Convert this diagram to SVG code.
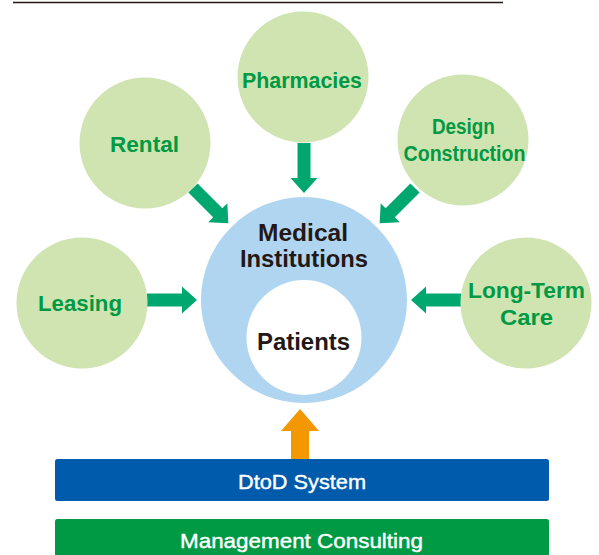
<svg xmlns="http://www.w3.org/2000/svg" width="599" height="555" viewBox="0 0 599 555">
<style>
.sat{fill:#cfe4b1}
.gt{font-family:"Liberation Sans",Arial,sans-serif;font-weight:bold;font-size:22px;fill:#009944;text-anchor:middle}
.bt{font-family:"Liberation Sans",Arial,sans-serif;font-weight:bold;font-size:23.5px;fill:#231815;text-anchor:middle}
.wt{font-family:"Liberation Sans",Arial,sans-serif;font-size:21px;fill:#ffffff;stroke:#ffffff;stroke-width:0.4;text-anchor:middle}
.ga{fill:#00a870}
</style>
<defs>
<polygon id="arr" points="-6.5,0 6.5,0 6.5,35 13.5,35 0,50 -13.5,35 -6.5,35"/>
</defs>
<line x1="13" y1="2.5" x2="503" y2="2.5" stroke="#231815" stroke-width="1.3"/>
<g id="connectors">
<use href="#arr" class="ga" transform="translate(304,143)"/>
<use href="#arr" class="ga" transform="translate(193,188) rotate(-45)"/>
<use href="#arr" class="ga" transform="translate(415,188) rotate(45)"/>
<use href="#arr" class="ga" transform="translate(147,300) rotate(-90)"/>
<use href="#arr" class="ga" transform="translate(461,300) rotate(90)"/>
<polygon fill="#f39800" points="291,459 309,459 309,431 319,431 300,409 281,431 291,431"/>
</g>
<g id="pharmacies"><circle class="sat" cx="303" cy="77" r="65.5"/><text class="gt" x="302" y="88" textLength="120" lengthAdjust="spacingAndGlyphs">Pharmacies</text></g>
<g id="rental"><circle class="sat" cx="145" cy="143" r="65.5"/><text class="gt" x="144.5" y="152" textLength="69" lengthAdjust="spacingAndGlyphs">Rental</text></g>
<g id="design"><circle class="sat" cx="463" cy="140" r="65.5"/><text class="gt" x="463.4" y="134" textLength="63" lengthAdjust="spacingAndGlyphs">Design</text><text class="gt" x="464.5" y="161" textLength="122" lengthAdjust="spacingAndGlyphs">Construction</text></g>
<g id="leasing"><circle class="sat" cx="82" cy="303" r="65.5"/><text class="gt" x="80" y="311" textLength="84" lengthAdjust="spacingAndGlyphs">Leasing</text></g>
<g id="longterm"><circle class="sat" cx="526" cy="303" r="65.5"/><text class="gt" x="526.5" y="298" textLength="117" lengthAdjust="spacingAndGlyphs">Long-Term</text><text class="gt" x="526.5" y="325" textLength="53" lengthAdjust="spacingAndGlyphs">Care</text></g>
<g id="medical"><circle cx="304" cy="300" r="103" fill="#b0d5f1"/><text class="bt" x="303" y="241" textLength="90" lengthAdjust="spacingAndGlyphs">Medical</text><text class="bt" x="304" y="267" textLength="128" lengthAdjust="spacingAndGlyphs">Institutions</text></g>
<g id="patients"><circle cx="304" cy="337.5" r="57.5" fill="#ffffff"/><text class="bt" x="303.5" y="350" textLength="93" lengthAdjust="spacingAndGlyphs">Patients</text></g>
<g id="dtod"><rect x="55" y="459" width="494" height="42" rx="2.5" fill="#005bac"/><text class="wt" x="302" y="489" textLength="128" lengthAdjust="spacingAndGlyphs">DtoD System</text></g>
<g id="consulting"><rect x="55" y="519" width="494" height="45" rx="2.5" fill="#009944"/><text class="wt" x="301.5" y="548" textLength="243" lengthAdjust="spacingAndGlyphs">Management Consulting</text></g>
</svg>
